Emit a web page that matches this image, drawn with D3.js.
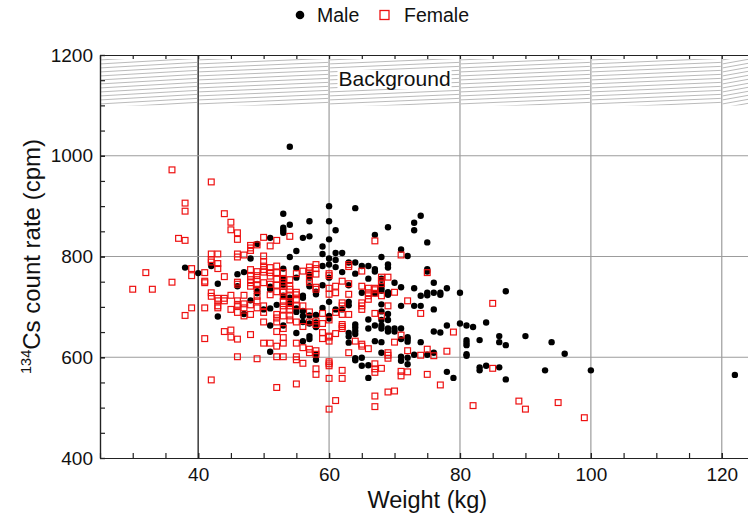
<!DOCTYPE html>
<html>
<head>
<meta charset="utf-8">
<script src="https://cdn.jsdelivr.net/npm/d3@7"></script>
<style>
  body { margin: 0; background: #fff; }
  svg { display: block; font-family: "Liberation Sans", Arial, Helvetica, sans-serif; }
</style>
</head>
<body>
<svg id="chart" width="748" height="515"></svg>
<script>
// Axis tick labels
const weightTicks = [40, 60, 80, 100, 120];
const countTicks = [400, 600, 800, 1000, 1200];

// Shaded background band (count rate range)
const backgroundBand = [1100, 1200];

// [weight kg, 134Cs count rate cpm]
const male = [
  [38,778],[40,767],[42,781],[43,746],[43,681],[46,765],[46,741],[47,769],[47,686],[48,796],[48,713],
  [49,825],[49,731],[49,727],[50,695],[51,837],[51,740],[51,735],[51,697],[51,663],[51,611],[52,704],
  [53,885],[53,857],[53,852],[53,847],[53,776],[53,751],[53,744],[53,663],[53,756],[53,722],
  [54,1018],[54,863],[54,799],[54,718],[54,707],[55,811],[55,777],[55,758],[55,697],[55,690],[55,648],
  [56,837],[56,722],[56,718],[56,692],[56,682],[56,670],[56,632],
  [57,683],[57,667],[57,642],[57,636],[57,870],[57,840],[57,764],[57,758],[57,741],
  [58,730],[58,725],[58,684],[58,669],[58,660],[58,606],[58,595],
  [59,820],[59,805],[59,781],[59,743],[59,698],
  [60,900],[60,870],[60,834],[60,796],[60,784],[60,758],[60,710],[60,682],[60,677],
  [61,852],[61,807],[61,793],[61,779],[61,695],
  [62,695],[62,807],[62,769],
  [63,710],[63,703],[63,648],[63,641],[63,629],[63,788],[63,743],
  [64,896],[64,788],[64,766],[64,665],[64,659],[64,652],[64,646],[64,598],[64,594],
  [65,781],[65,728],[65,599],[65,583],
  [66,675],[66,657],[66,781],[66,756],[66,584],[66,559],
  [67,843],[67,775],[67,770],[67,727],[67,663],[67,632],
  [68,799],[68,756],[68,743],[68,737],[68,732],[68,705],[68,691],[68,674],[68,663],[68,657],[68,630],[68,609],
  [69,858],[69,784],[69,778],[69,729],[69,724],[69,686],[69,674],[69,657],[69,651],
  [70,748],[70,657],[70,651],
  [71,814],[71,739],[71,702],[71,657],[71,636],[71,601],[71,593],
  [72,801],[72,640],[72,636],[72,631],[72,599],[72,586],
  [73,867],[73,852],[73,737],[73,702],[73,605],
  [74,881],[74,722],[74,702],[74,630],
  [75,828],[75,775],[75,770],[75,728],[75,723],[75,605],
  [76,748],[76,728],[76,695],[76,651],[76,609],
  [77,728],[77,724],[77,649],
  [78,737],[78,663],[78,571],[79,559],
  [80,728],[80,667],
  [81,663],[81,634],[81,629],[81,624],[81,606],[81,603],[82,660],
  [83,634],[83,580],[83,574],[84,669],[84,583],
  [86,642],[86,630],[86,580],[87,731],[87,624],[87,556],
  [90,642],[93,574],[94,630],[96,607],[100,574],[122,565]
];

const female = [
  [30,735],[32,768],[33,735],[36,972],[36,749],[37,836],[38,906],[38,890],[38,832],[38,683],
  [39,776],[39,762],[39,698],[41,768],[41,751],[41,748],[41,698],[41,637],[42,555],
  [42,948],[42,805],[42,794],[42,789],[42,728],[42,721],
  [43,805],[43,786],[43,776],[43,717],[43,712],[43,702],[43,698],
  [44,885],[44,760],[44,717],[44,712],[44,651],
  [45,868],[45,853],[45,723],[45,695],[45,654],[45,640],
  [46,847],[46,834],[46,805],[46,799],[46,749],[46,745],[46,712],[46,705],[46,702],[46,689],[46,636],[46,601],
  [47,803],[47,723],[47,706],[47,698],[47,682],
  [48,822],[48,817],[48,812],[48,774],[48,761],[48,754],[48,748],[48,741],[48,704],[48,685],[48,645],
  [49,823],[49,770],[49,762],[49,754],[49,744],[49,735],[49,721],[49,712],[49,698],[49,597],
  [50,838],[50,801],[50,790],[50,781],[50,774],[50,769],[50,748],[50,702],[50,689],[50,670],[50,628],
  [51,821],[51,778],[51,768],[51,761],[51,745],[51,724],[51,628],
  [52,832],[52,781],[52,768],[52,755],[52,743],[52,730],[52,685],[52,678],[52,670],[52,651],[52,622],[52,601],[52,540],
  [53,768],[53,755],[53,743],[53,729],[53,721],[53,711],[53,702],[53,695],[53,682],[53,657],[53,639],[53,628],[53,601],[53,749],
  [54,840],[54,754],[54,741],[54,735],[54,722],[54,708],[54,702],[54,695],[54,682],[54,674],
  [55,766],[55,729],[55,724],[55,715],[55,702],[55,670],[55,628],[55,601],[55,595],[55,547],
  [56,771],[56,702],[56,661],[56,619],[56,588],
  [57,779],[57,772],[57,766],[57,755],[57,749],[57,690],[57,670],[57,616],[57,609],
  [58,784],[58,776],[58,765],[58,739],[58,735],[58,672],[58,665],[58,613],[58,606],[58,577],[58,566],
  [59,687],[59,667],[59,649],[59,637],
  [60,766],[60,762],[60,737],[60,725],[60,674],[60,642],[60,640],[60,632],[60,591],[60,587],[60,583],[60,558],[60,497],
  [61,741],[61,728],[61,689],[61,647],[61,514],
  [62,751],[62,708],[62,702],[62,685],[62,665],[62,661],[62,657],[62,574],[62,558],
  [63,784],[63,780],[63,746],[63,725],[63,685],[63,609],
  [64,632],
  [65,771],[65,741],[65,708],[65,702],[65,695],[65,626],[65,622],
  [66,737],[66,728],[66,722],[66,715],[66,617],
  [67,831],[67,737],[67,734],[67,727],[67,687],[67,587],[67,577],[67,570],[67,523],[67,502],
  [68,759],[68,752],[68,746],[68,722],[68,682],[68,578],
  [69,759],[69,702],[69,609],[69,604],[69,598],[69,531],
  [70,729],[70,630],[70,533],
  [71,803],[71,644],[71,572],[71,563],
  [72,712],[72,613],[72,571],
  [74,687],[74,604],
  [75,768],[75,616],[75,566],
  [76,603],[77,545],[78,612],[79,650],
  [82,504],[85,707],[85,578],[89,513],[90,497],[95,510],[99,480]
];

const svg = d3.select("#chart");
const x = d3.scaleLinear().domain([25, 125]).range([100, 754.5]);
const y = d3.scaleLinear().domain([400, 1200]).range([458, 55]);

const gridColor = "#9c9c9c";

// Grid lines
const grid = svg.append("g");
grid.selectAll("line.v").data(weightTicks).join("line")
  .attr("x1", d => x(d)).attr("x2", d => x(d))
  .attr("y1", y(1200)).attr("y2", y(400))
  .attr("stroke", d => d === 40 ? "#3a3a3a" : gridColor)
  .attr("stroke-width", d => d === 40 ? 1.5 : 1.2);
grid.selectAll("line.h").data(countTicks.filter(d => d > 400 && d < 1200)).join("line")
  .attr("x1", x(25)).attr("x2", x(125))
  .attr("y1", d => y(d)).attr("y2", d => y(d))
  .attr("stroke", gridColor).attr("stroke-width", 1.2);

// Hatched background band, one slanted set of strokes per grid cell
const bandTop = y(backgroundBand[1]) + 4;
const bandBottom = y(backgroundBand[0]);
const cellEdges = [25].concat(weightTicks, [125]);
const hatch = svg.append("g");
const defs = svg.append("defs");
for (let i = 0; i < cellEdges.length - 1; i++) {
  const xa = x(cellEdges[i]), xb = x(cellEdges[i + 1]);
  const id = "cell" + i;
  defs.append("clipPath").attr("id", id).append("rect")
    .attr("x", xa).attr("y", bandTop).attr("width", xb - xa).attr("height", bandBottom - bandTop);
  const g = hatch.append("g").attr("clip-path", `url(#${id})`);
  const rise = 5.5, gap = 4;
  const starts = d3.range(bandBottom + 2.5, bandTop - gap, -gap);
  g.selectAll("line").data(starts).join("line")
    .attr("x1", xa + 1).attr("x2", xb - 1)
    .attr("y1", d => d).attr("y2", d => d - rise)
    .attr("stroke", "#b2b2b2").attr("stroke-width", 0.9);
}

// Band label
const bgLabel = svg.append("g");
const bgText = bgLabel.append("text")
  .attr("x", x(70)).attr("y", 86)
  .attr("text-anchor", "middle")
  .attr("font-size", 21).attr("fill", "#111")
  .text("Background");
const bb = bgText.node().getBBox();
bgLabel.insert("rect", "text")
  .attr("x", bb.x - 1).attr("y", bb.y + 3)
  .attr("width", bb.width + 2).attr("height", bb.height - 4)
  .attr("fill", "#fff");

// Points
svg.append("g").selectAll("circle").data(male).join("circle")
  .attr("cx", d => x(d[0])).attr("cy", d => y(d[1]))
  .attr("r", 3.2).attr("fill", "#000");

const sq = 5.8;
svg.append("g").selectAll("rect").data(female).join("rect")
  .attr("x", d => x(d[0]) - sq / 2).attr("y", d => y(d[1]) - sq / 2)
  .attr("width", sq).attr("height", sq)
  .attr("fill", "none").attr("stroke", "#ee1111").attr("stroke-width", 1.2);

// Axes
const axisColor = "#222";
function styleAxis(g) {
  g.selectAll("path, line").attr("stroke", axisColor).attr("stroke-width", 1.2);
  g.selectAll("text").attr("fill", "#111").attr("font-size", 19)
    .attr("font-family", '"Liberation Sans", Arial, sans-serif');
}

svg.append("g").attr("transform", `translate(0,${y(400)})`)
  .call(d3.axisBottom(x).tickValues(weightTicks).tickSize(-5).tickSizeOuter(0).tickPadding(10))
  .call(styleAxis);
svg.append("g").attr("transform", `translate(0,${y(400)})`)
  .call(d3.axisBottom(x).tickValues(x.ticks(20)).tickSize(-5).tickSizeOuter(0).tickFormat(""))
  .call(styleAxis);
svg.append("g").attr("transform", `translate(0,${y(1200)})`)
  .call(d3.axisTop(x).tickValues(x.ticks(20)).tickSize(-4).tickSizeOuter(0).tickFormat(""))
  .call(styleAxis);
svg.append("g").attr("transform", `translate(${x(25)},0)`)
  .call(d3.axisLeft(y).tickValues(countTicks).tickFormat(d3.format("d")).tickSize(-5).tickSizeOuter(0).tickPadding(7))
  .call(styleAxis);
svg.append("g").attr("transform", `translate(${x(25)},0)`)
  .call(d3.axisLeft(y).tickValues(y.ticks(16)).tickSize(-5).tickSizeOuter(0).tickFormat(""))
  .call(styleAxis);

// Axis titles
svg.append("text")
  .attr("x", (x(25) + x(125)) / 2).attr("y", 508)
  .attr("text-anchor", "middle").attr("font-size", 23.5).attr("fill", "#111")
  .text("Weight (kg)");

const yTitle = svg.append("text")
  .attr("transform", `translate(40,${(y(400) + y(1200)) / 2}) rotate(-90)`)
  .attr("text-anchor", "middle").attr("font-size", 24).attr("fill", "#111");
yTitle.append("tspan").attr("font-size", 14.5).attr("dy", -9).text("134");
yTitle.append("tspan").attr("dy", 9).text("Cs count rate (cpm)");

// Legend
const legend = svg.append("g");
legend.append("circle").attr("cx", 300).attr("cy", 15).attr("r", 4.3).attr("fill", "#000");
legend.append("text").attr("x", 317).attr("y", 22).attr("font-size", 19.5).attr("fill", "#111").text("Male");
legend.append("rect").attr("x", 380).attr("y", 10.5).attr("width", 9).attr("height", 9)
  .attr("fill", "none").attr("stroke", "#ee1111").attr("stroke-width", 1.3);
legend.append("text").attr("x", 404).attr("y", 22).attr("font-size", 19.5).attr("fill", "#111").text("Female");
</script>
</body>
</html>
